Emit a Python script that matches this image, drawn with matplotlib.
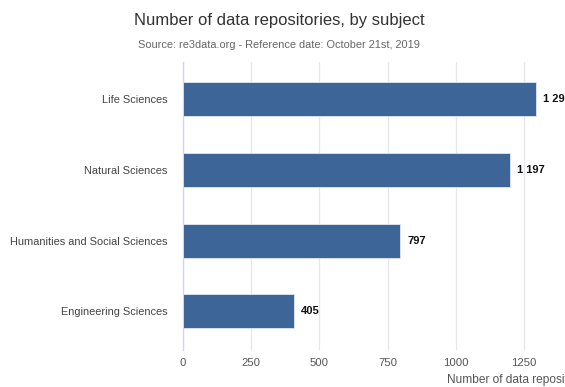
import matplotlib

matplotlib.use("Agg")
import matplotlib.pyplot as plt  # noqa: E402

plt.rcParams["font.family"] = ["Liberation Sans", "DejaVu Sans"]

# repositories per subject, top to bottom
subjects = ["Life Sciences", "Natural Sciences", "Humanities and Social Sciences", "Engineering Sciences"]
counts = [1295, 1197, 797, 405]
xticks = [0, 250, 500, 750, 1000, 1250]

BAR = "#3e6597"
GRID = "#e6e6ee"

fig = plt.figure(figsize=(5.65, 3.87), dpi=100)
ax = fig.add_axes([0.324, 0.0956, 0.7257, 0.7442])

ypos = list(range(len(subjects)))
ax.barh(ypos, counts, height=0.48, color=BAR, edgecolor="#dfe6f0", linewidth=0.6, zorder=3)
for y, v in zip(ypos, counts):
    ax.annotate(f"{v:,}".replace(",", " "), (v, y), xytext=(5, 0), textcoords="offset points",
                va="center", ha="left", fontsize=8, fontweight="bold", color="#111111")

ax.set_ylim(3.55, -0.53)
ax.set_xlim(0, 1503)
ax.set_yticks(ypos)
ax.set_yticklabels(subjects, fontsize=7.9, color="#444444")
ax.set_xticks(xticks)
ax.set_xticklabels([str(t) for t in xticks], fontsize=8.2, color="#555555")
ax.tick_params(axis="both", length=0)
ax.tick_params(axis="y", pad=11)
ax.tick_params(axis="x", pad=6)
ax.grid(axis="x", color=GRID, lw=0.9, zorder=0)
for s in ("top", "right", "bottom"):
    ax.spines[s].set_visible(False)
ax.spines["left"].set_color("#ccd6eb")
ax.spines["left"].set_linewidth(0.9)

ax.set_xlabel("Number of data repositories", fontsize=8.6, color="#555555", loc="right", labelpad=4)

fig.text(0.494, 0.948, "Number of data repositories, by subject", ha="center", va="center",
         fontsize=12, color="#333333")
fig.text(0.494, 0.884, "Source: re3data.org - Reference date: October 21st, 2019", ha="center",
         va="center", fontsize=7.95, color="#666666")

fig.savefig("out.png", dpi=100)
